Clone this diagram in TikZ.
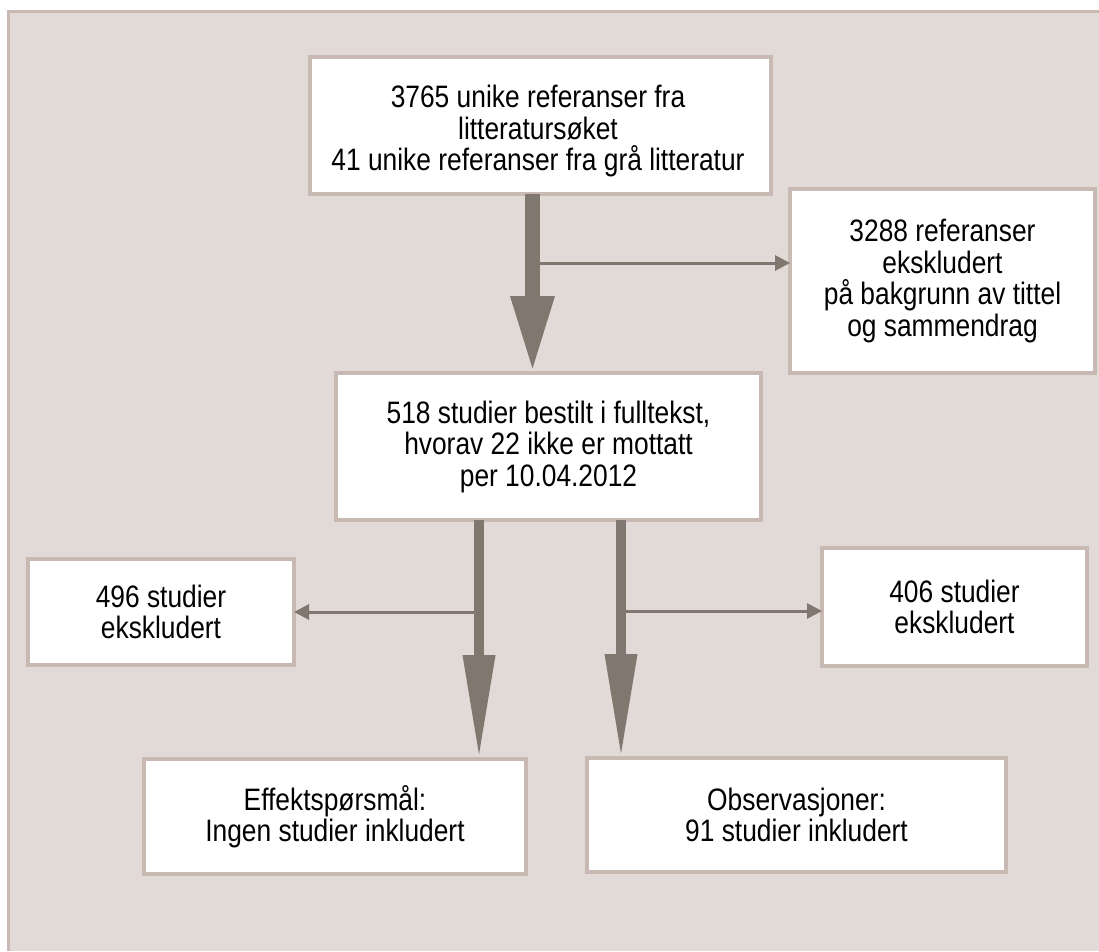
\documentclass[tikz,border=0pt]{standalone}
\usepackage{fontspec}
\setmainfont{Liberation Sans}[FakeStretch=0.85]
\usetikzlibrary{arrows.meta}
\definecolor{bgc}{RGB}{226,218,215}
\definecolor{bdc}{RGB}{200,186,179}
\definecolor{arc}{RGB}{128,120,110}
\tikzset{
  txt/.style={align=center, inner sep=0pt, font=\fontsize{31}{31.5}\selectfont},
  box/.style={txt, draw=bdc, line width=4pt, fill=white, outer sep=0pt},
  bigarrow/.style={draw=arc, line width=15pt, -{Triangle[length=77pt,width=40pt]}},
  midarrow/.style={draw=arc, line width=10pt, -{Triangle[length=104pt,width=30pt]}},
  thinarrow/.style={draw=arc, line width=3pt, -{Triangle[length=15pt,width=15pt]}},
}
\begin{document}
\begin{tikzpicture}[x=1pt,y=-1pt]
\useasboundingbox (0,0) rectangle (1099,951);
% background panel
\fill[bgc] (8.5,11.5) rectangle (1099,951);
\draw[bdc, line width=2.5pt] (8.5,951) -- (8.5,11.5) -- (1099,11.5);

% boxes
\node[box, minimum width=461pt, minimum height=137pt] (top) at (540.5,125.5) {};
\node[txt] (toptext) at (538,131) {3765 unike referanser fra\\litteratursøket\\41 unike referanser fra grå litteratur};
\node[box, minimum width=305pt, minimum height=184pt] (rbox) at (942.5,281) {3288 referanser\\ekskludert\\på bakgrunn av tittel\\og sammendrag};
\node[box, minimum width=425pt, minimum height=147pt] (mid) at (548.5,446.5) {518 studier bestilt i fulltekst,\\hvorav 22 ikke er mottatt\\per 10.04.2012};
\node[box, minimum width=266pt, minimum height=106pt] (lbox) at (161,612) {496 studier\\ekskludert};
\node[box, minimum width=265pt, minimum height=118pt] (rrbox) at (954.5,607) {406 studier\\ekskludert};
\node[box, minimum width=382pt, minimum height=115pt] (bl) at (335,816.5) {Effektspørsmål:\\Ingen studier inkludert};
\node[box, minimum width=419pt, minimum height=114pt] (br) at (796.5,815) {Observasjoner:\\91 studier inkludert};

% branch start points
\coordinate (b1) at (540,263);
\coordinate (b2) at (474,612);
\coordinate (b3) at (626,611);

% main arrows
\draw[bigarrow] ([xshift=-8pt]top.south) -- ([xshift=-16pt]mid.north);
\draw[midarrow] ([xshift=-69.5pt]mid.south) -- ([xshift=144pt]bl.north);
\draw[midarrow] ([xshift=72.5pt]mid.south) -- ([xshift=-175.5pt]br.north);

% side arrows
\draw[thinarrow] (b1) -- ([yshift=18pt]rbox.west);
\draw[thinarrow] (b2) -- (lbox.east);
\draw[thinarrow] (b3) -- ([yshift=-4pt]rrbox.west);
\end{tikzpicture}
\end{document}
